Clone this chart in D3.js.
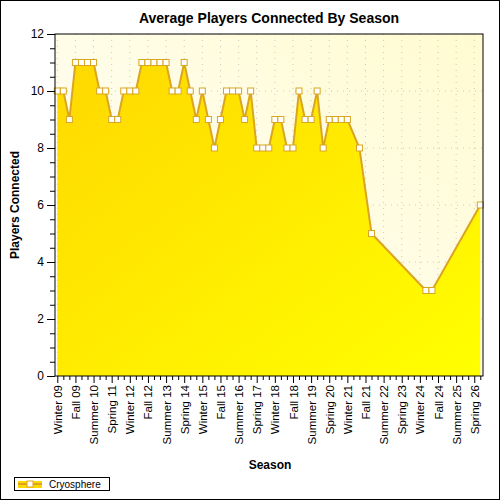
<!DOCTYPE html>
<html><head><meta charset="utf-8">
<script src="https://cdn.jsdelivr.net/npm/d3@7"></script>
<style>body{margin:0}svg{display:block;font-family:"Liberation Sans",Arial,sans-serif}</style>
</head><body>
<script>
// seasons Winter 09 .. Summer 26
const seasonNames = ["Winter", "Spring", "Summer", "Fall"];
const seasons = [];
for (let i = 0; i < 71; i++) seasons.push(seasonNames[i % 4] + " " + String(9 + Math.floor(i / 4)).padStart(2, "0"));
const players = [10,10,9,11,11,11,11,10,10,9,9,10,10,10,11,11,11,11,11,10,10,11,10,9,10,9,8,9,10,10,10,9,10,8,8,8,9,9,8,8,10,9,9,10,8,9,9,9,9,null,8,null,5,
  null,null,null,null,null,null,null,null,3,3,null,null,null,null,null,null,null,6];
const yTicks = [0, 2, 4, 6, 8, 10, 12];

const W = 500, H = 500;
const pL = 55, pR = 483, pT = 34, pB = 376;
const svg = d3.select("body").append("svg").attr("width", W).attr("height", H);

const defs = svg.append("defs");
const bg = defs.append("linearGradient").attr("id", "bg").attr("x1", 1).attr("y1", 0).attr("x2", 0).attr("y2", 1);
bg.append("stop").attr("offset", 0).attr("stop-color", "#fffbd0");
bg.append("stop").attr("offset", 1).attr("stop-color", "#ffffff");
const fg = defs.append("linearGradient").attr("id", "fg").attr("x1", 0).attr("y1", 0).attr("x2", 1).attr("y2", 1);
fg.append("stop").attr("offset", 0).attr("stop-color", "#ffd800");
fg.append("stop").attr("offset", 1).attr("stop-color", "#ffff00");

svg.append("rect").attr("x", 0.5).attr("y", 0.5).attr("width", W - 1).attr("height", H - 1).attr("fill", "#fff").attr("stroke", "#000");

const x = d3.scalePoint().domain(seasons).range([57.3, 480.3]);
const y = d3.scaleLinear().domain([0, 12]).range([pB, pT]);

svg.append("rect").attr("x", pL).attr("y", pT).attr("width", pR - pL).attr("height", pB - pT).attr("fill", "url(#bg)");

// grid
const g = svg.append("g").attr("stroke", "#c8c8c8").attr("stroke-dasharray", "1,5");
yTicks.slice(1, -1).forEach(t => g.append("line").attr("x1", pL).attr("x2", pR).attr("y1", y(t)).attr("y2", y(t)));
seasons.forEach((s, i) => { if (i % 3 === 0) g.append("line").attr("x1", x(s)).attr("x2", x(s)).attr("y1", pT).attr("y2", pB); });

const pts = seasons.map((s, i) => ({ s, v: players[i] })).filter(d => d.v != null);
svg.append("path").datum(pts).attr("fill", "url(#fg)")
  .attr("d", d3.area().x(d => x(d.s)).y0(pB).y1(d => y(d.v)));
svg.append("path").datum(pts).attr("fill", "none").attr("stroke", "#daa520").attr("stroke-width", 2)
  .attr("d", d3.line().x(d => x(d.s)).y(d => y(d.v)));
svg.selectAll(".m").data(pts).join("rect").attr("x", d => x(d.s) - 3).attr("y", d => y(d.v) - 3)
  .attr("width", 6).attr("height", 6).attr("fill", "#fff").attr("stroke", "#daa520");

// frame
svg.append("rect").attr("x", pL).attr("y", pT).attr("width", pR - pL).attr("height", pB - pT)
  .attr("fill", "none").attr("stroke", "#000");

// y axis
const ya = svg.append("g").attr("transform", `translate(${pL},0)`)
  .call(d3.axisLeft(y).tickValues(d3.range(0, 12.01, 0.5)).tickSize(5).tickFormat(d => yTicks.includes(d) ? d : ""));
ya.select(".domain").remove();
ya.selectAll(".tick line").attr("x2", d => yTicks.includes(d) ? -8 : -5).attr("stroke", "#000");
ya.selectAll("text").attr("x", -11).style("font-size", "12px").attr("fill", "#000");

// x axis
const xa = svg.append("g").attr("transform", `translate(0,${pB})`)
  .call(d3.axisBottom(x).tickSize(4).tickFormat((d, i) => i % 3 === 0 ? d : ""));
xa.select(".domain").remove();
xa.selectAll(".tick line").attr("y2", (d, i) => i % 3 === 0 ? 7 : 4).attr("stroke", "#000");
xa.selectAll("text").attr("transform", "rotate(-90)").attr("text-anchor", "end")
  .attr("x", -9).attr("y", 0).attr("dy", "0.35em").style("font-size", "11.5px").attr("fill", "#000");

svg.append("text").attr("x", 269).attr("y", 23).attr("text-anchor", "middle")
  .style("font-size", "14px").style("font-weight", "bold").text("Average Players Connected By Season");
svg.append("text").attr("transform", "translate(19,205) rotate(-90)").attr("text-anchor", "middle")
  .style("font-size", "12px").style("font-weight", "bold").text("Players Connected");
svg.append("text").attr("x", 270).attr("y", 469).attr("text-anchor", "middle")
  .style("font-size", "12px").style("font-weight", "bold").text("Season");

// legend
const lg = svg.append("g");
lg.append("rect").attr("x", 14.5).attr("y", 477.5).attr("width", 95).attr("height", 13).attr("fill", "#fff").attr("stroke", "#000");
lg.append("rect").attr("x", 18).attr("y", 481).attr("width", 24).attr("height", 7).attr("fill", "#ffd800");
lg.append("line").attr("x1", 18).attr("x2", 42).attr("y1", 484).attr("y2", 484).attr("stroke", "#daa520").attr("stroke-width", 2);
lg.append("rect").attr("x", 27).attr("y", 481).attr("width", 6).attr("height", 6).attr("fill", "#fff").attr("stroke", "#daa520");
lg.append("text").attr("x", 49).attr("y", 488).style("font-size", "10px").text("Cryosphere");
</script>
</body></html>
